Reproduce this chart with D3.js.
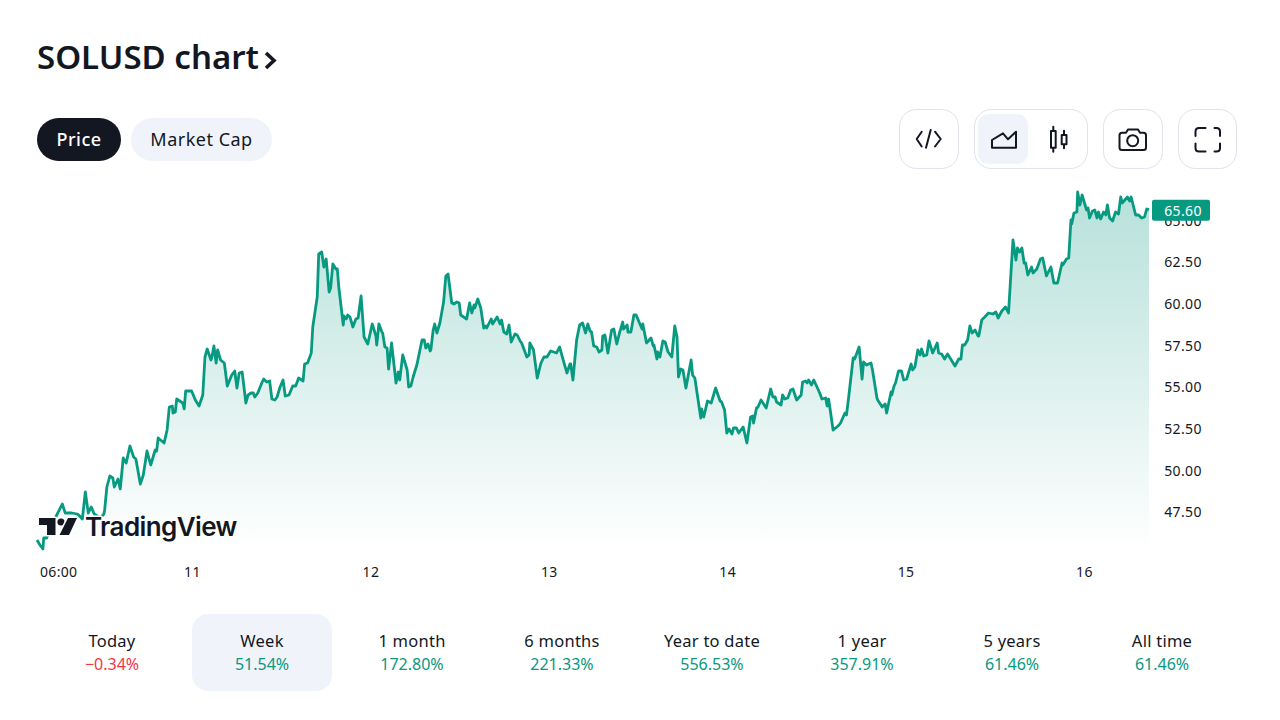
<!DOCTYPE html>
<html><head><meta charset="utf-8">
<script src="https://cdn.jsdelivr.net/npm/d3@7/dist/d3.min.js"></script>
<style>html,body{margin:0;padding:0;background:#fff;overflow:hidden}svg{display:block}text{font-family:"Noto Sans",sans-serif}</style>
</head><body><svg id="c" width="1280" height="720"></svg>
<script>
const hours=[0,.4,.8,.9,1.3,1.7,2.3,2.8,3.4,3.8,4.3,4.7,5.4,5.6,6.1,6.5,6.9,7.3,7.7,8.5,9,9.1,9.4,9.8,10.2,10.4,10.9,11.2,11.6,12,12.5,13,13.3,13.9,14.3,14.8,15.3,15.9,16.1,16.3,17.1,17.5,17.8,18.2,18.3,18.6,18.8,19.6,19.8,20,20.8,21.3,21.8,22.3,22.6,22.9,23.4,23.5,23.8,24.1,24.3,24.7,25.2,25.6,26.2,26.6,26.9,27.2,27.6,28.1,28.4,28.8,29.1,29.3,29.7,30.3,30.5,30.9,31.3,31.6,32,32.3,32.7,33.1,33.4,33.9,34.4,34.8,35.2,35.8,36,36.4,36.9,37.1,37.4,37.7,37.9,38.3,38.6,38.9,39.3,39.5,39.8,40.2,40.4,40.6,41.2,41.3,41.6,41.8,42.1,42.5,42.9,43.2,43.6,44,44.5,45.1,45.6,45.7,46,46.4,46.5,46.8,47.1,47.3,47.7,48.3,48.6,48.8,49.2,49.8,50,50.3,50.6,51.1,51.8,52.1,52.3,52.6,52.9,53,53.3,53.5,53.8,54.2,54.7,55,55.3,55.8,56.1,56.5,56.8,57,57.8,58.2,58.5,58.8,58.9,59.3,59.7,60.1,60.4,60.5,61.1,61.3,61.9,62.3,62.5,62.8,63.2,63.5,63.8,64.3,64.6,65,65.2,65.9,66.2,66.3,66.8,67.3,67.8,68.2,68.6,69.1,69.9,70.3,70.9,71.3,71.7,71.8,72.1,72.6,73,73.4,73.8,74.1,74.4,74.6,74.9,75.3,75.6,76,76.1,76.4,76.8,77.3,77.6,78,78.4,78.8,78.9,79.4,79.5,79.9,80.3,80.6,81.4,81.5,82,82.6,82.9,83,83.4,83.5,83.8,84.2,84.5,84.9,85.4,85.8,86.1,86.3,86.6,86.9,87.3,88,88.2,88.5,89.3,89.4,89.7,90.2,90.7,91.3,91.9,92.1,92.5,92.8,93.1,93.5,93.7,94.1,94.4,95,95.5,96,96.3,96.4,96.8,97,97.4,98.1,98.7,99,99.3,99.5,100.1,100.3,100.6,101,101.4,101.7,102.2,102.8,103,103.4,103.6,103.8,104.2,104.5,105.3,105.6,106.1,106.3,106.5,107.1,107.6,107.9,108.1,108.7,108.9,109.2,109.8,110,110.6,111,111.2,111.6,112.2,112.4,113,113.1,113.7,114.1,114.3,114.9,115,115.3,115.5,115.9,116.3,116.6,117,117.6,117.8,118.1,118.5,118.8,119,119.3,119.7,120,120.5,121.1,121.3,121.7,122.1,122.5,123.5,124,124.3,124.5,124.8,125.2,125.5,125.8,126.2,126.6,126.7,127.1,127.5,128,128.6,129,129.3,129.8,130.3,130.7,131.3,131.7,131.9,132.2,132.5,132.8,133,133.3,133.8,134,134.5,135,135.3,135.8,136.4,136.8,137.3,137.9,138,138.5,138.8,139.1,139.2,139.5,139.9,140,140.3,140.6,141.2,141.4,141.6,142,142.3,142.6,142.8,143.1,143.5,143.8,144,144.3,144.7,145.1,145.5,145.8,146,146.7,147,147.2,147.8,148.2,148.6,149,149.3,149.6];
const prices=[45.78,45.48,45.24,45.9,45.9,46.38,46.98,47.4,47.94,47.4,47.4,47.4,47.34,47.28,47.04,48.66,47.4,47.76,47.34,47.1,47.34,47.58,48.96,49.62,49.5,48.96,49.44,48.84,50.7,50.4,51.42,50.76,50.64,49.14,49.68,51.12,50.28,51.18,51.12,51.9,51.6,52.38,53.76,53.82,53.4,53.46,54.24,54,53.64,54.72,54.72,54.18,53.82,54.48,56.76,57.24,56.58,56.7,57.42,56.4,57.18,56.58,56.4,55.02,55.68,55.92,54.9,55.8,55.86,54,54.48,54.6,54.6,54.36,54.6,55.26,55.44,55.26,55.32,54.24,54.18,54.36,54.96,55.38,54.42,54.48,55.02,55.02,55.5,55.32,56.34,56.4,57,58.56,59.46,60.36,62.94,63.06,62.16,62.64,60.66,60.9,62.34,62.04,62.04,60.96,58.68,59.22,59.04,59.28,59.16,58.56,59.04,59.1,60.42,57.96,57.54,58.74,58.02,57.48,58.74,58.26,58.2,57.36,57.3,56.04,57.6,55.2,55.86,55.38,56.88,55.98,54.96,55.02,55.56,56.28,57.78,57.78,57.3,57.54,57.12,57.24,58.38,58.74,58.2,58.8,60.06,61.62,61.74,60,59.94,60.06,60,59.28,59.04,60,59.4,59.88,59.7,60.24,59.7,58.5,58.62,58.5,59.04,58.74,59.16,58.74,58.98,58.26,58.14,58.68,57.66,58.14,58.08,57.72,57.6,56.76,56.88,57.6,57.18,55.5,56.4,56.76,56.76,57.12,57,57.36,56.4,55.8,56.34,56.34,55.38,57.78,58.68,58.8,58.2,58.74,58.32,58.26,57.42,57.36,57.06,57.18,58.02,58.08,57,58.38,58.44,57.54,58.26,58.86,58.44,58.68,58.26,58.26,59.28,59.28,58.44,58.74,57.6,57.9,57.42,57.48,56.64,57.06,56.76,57.72,57.66,57.06,56.76,58.62,57.96,55.56,56.04,55.98,54.9,56.58,55.68,55.5,53.1,53.64,53.16,54.12,54,54.9,54.12,54.06,53.58,52.2,52.44,52.14,52.5,52.5,52.2,52.56,51.6,53.16,53.22,52.8,53.7,53.76,54.18,53.7,54.84,54.36,54.36,54.06,53.88,54.48,54.24,54.3,54.78,54.84,54.18,54.48,55.26,55.32,55.2,55.38,55.08,55.38,54.6,54.24,54.3,53.82,54.24,52.38,52.56,52.68,52.8,53.4,53.28,54.36,56.7,56.64,57.36,55.44,56.46,56.28,56.4,55.98,54.3,54.18,53.76,53.94,53.4,54.66,54.48,55.02,55.2,55.92,55.92,55.38,55.44,56.34,55.98,56.16,57.18,56.88,57.24,56.82,56.88,57.72,57,57.6,57,56.94,56.64,56.94,56.22,56.64,56.64,57.48,57.48,57.78,58.62,58.2,58.38,58.02,58.02,58.98,59.16,59.4,59.34,59.46,59.1,59.52,59.76,59.4,63.78,62.58,63.3,63.06,63.3,62.4,62.4,61.68,62.16,61.8,62.04,62.64,62.7,61.62,62.16,61.2,61.2,62.4,62.28,62.64,62.7,64.98,64.74,65.4,65.46,66.66,65.88,66.48,65.58,65.7,65.1,65.52,65.58,65.1,65.46,65.04,65.46,65.28,65.88,65.1,64.92,65.46,65.34,66.36,66,66.36,66.12,66.36,65.28,65.28,65.1,65.16,65.64,65.6];
const yTicks=[47.5,50,52.5,55,57.5,60,62.5,65];
const xTickHours=[2.85,20.85,44.85,68.85,92.85,116.85,140.85];
const xTickLabels=["06:00","11","12","13","14","15","16"];
const lastPrice=65.60;
const tabs=["Price","Market Cap"];
const periods=["Today","Week","1 month","6 months","Year to date","1 year","5 years","All time"];
const changes=["−0.34%","51.54%","172.80%","221.33%","556.53%","357.91%","61.46%","61.46%"];

const INK="#131722",UP="#089981",DOWN="#f23645",PALE="#f0f3fa",EDGE="#e0e3eb";
const svg=d3.select("#c");
const x=d3.scaleLinear().domain([0,149.6]).range([37,1149]);
const y=d3.scaleLinear().domain([45,67]).range([553,186.33]);
const series=hours.map((h,i)=>({h,p:prices[i]}));

const defs=svg.append("defs");
const grad=defs.append("linearGradient").attr("id","fill").attr("gradientUnits","userSpaceOnUse")
  .attr("x1",0).attr("x2",0).attr("y1",186).attr("y2",551);
grad.append("stop").attr("offset",0).attr("stop-color",UP).attr("stop-opacity",.3);
grad.append("stop").attr("offset",1).attr("stop-color",UP).attr("stop-opacity",0);

// header
svg.append("text").attr("x",37).attr("y",69).attr("font-size",33).attr("font-weight",600).attr("fill",INK).text("SOLUSD chart");
svg.append("path").attr("d","M266 53L274 60.500L266 68").attr("fill","none").attr("stroke",INK).attr("stroke-width",3.6);

// pills
const pillX=[37,131],pillW=[84,141];
tabs.forEach((t,i)=>{
  svg.append("rect").attr("x",pillX[i]).attr("y",118).attr("width",pillW[i]).attr("height",43).attr("rx",21.5).attr("fill",i?PALE:INK);
  svg.append("text").attr("x",pillX[i]+pillW[i]/2).attr("y",145.5).attr("text-anchor","middle").attr("font-size",18).attr("letter-spacing",.5).attr("font-weight",i?400:500).attr("fill",i?INK:"#fff").text(t);
});

// toolbar
[[899,60],[974,114],[1103,60],[1178,59]].forEach(([bx,w])=>{
  svg.append("rect").attr("x",bx+.5).attr("y",109.5).attr("width",w-1).attr("height",59).attr("rx",17).attr("fill","#fff").attr("stroke",EDGE);
});
svg.append("rect").attr("x",978).attr("y",114).attr("width",50).attr("height",50).attr("rx",11).attr("fill",PALE);
const icon=d=>svg.append("path").attr("d",d).attr("fill","none").attr("stroke",INK).attr("stroke-width",2).attr("stroke-linecap","round").attr("stroke-linejoin","round");
icon("M921.700 131.700L916.700 139L921.700 146.500M935 131.700L940.700 139L935 146.500M930.700 130L926 147.700");
icon("M992 147.700V140L1003 133.300L1008 139.300L1016 131.700V147.700Z");
icon("M1053.300 126.700V131M1053.300 147.700V151.700M1051 131H1055.700V147.700H1051ZM1064 130.700V135M1064 144.300V148.300M1061.700 135H1066.500V144.300H1061.700Z");
icon("M1122 132.700H1126L1128 129.500H1138L1140 132.700H1143.500A2.500 2.500 0 0 1 1146 135.200V147.500A2.500 2.500 0 0 1 1143.500 150H1122A2.500 2.500 0 0 1 1119.500 147.500V135.200A2.500 2.500 0 0 1 1122 132.700Z");
svg.append("circle").attr("cx",1132.7).attr("cy",140.7).attr("r",5.5).attr("fill","none").attr("stroke",INK).attr("stroke-width",2);
icon("M1195.500 136V131.500Q1195.500 128 1199 128H1205.500M1214.500 128H1216.500Q1220 128 1220 131.500V136M1195.500 143.500V148Q1195.500 151.500 1199 151.500H1205.500M1214.500 151.500H1216.500Q1220 151.500 1220 148V143.500");

// area and line
svg.append("path").datum(series).attr("fill","url(#fill)")
  .attr("d",d3.area().x(d=>x(d.h)).y0(551).y1(d=>y(d.p)));
svg.append("path").datum(series).attr("fill","none").attr("stroke",UP).attr("stroke-width",2.8).attr("stroke-linejoin","round")
  .attr("d",d3.line().x(d=>x(d.h)).y(d=>y(d.p)));

// axes
const yAxis=svg.append("g").attr("transform","translate(1183,1)")
  .call(d3.axisRight(y).tickValues(yTicks).tickSize(0).tickPadding(0).tickFormat(d3.format(".2f")));
yAxis.select(".domain").remove();
yAxis.selectAll("text").attr("text-anchor","middle").attr("font-size",14).attr("letter-spacing",.35).attr("fill",INK).attr("font-family",'"Noto Sans",sans-serif');
const xAxis=svg.append("g").attr("transform","translate(0,561)")
  .call(d3.axisBottom(x).tickValues(xTickHours).tickSize(0).tickPadding(6).tickFormat((d,i)=>xTickLabels[i]));
xAxis.select(".domain").remove();
xAxis.selectAll("text").attr("font-size",14).attr("letter-spacing",.35).attr("fill",INK).attr("font-family",'"Noto Sans",sans-serif');

// last price tag
svg.append("rect").attr("x",1152).attr("y",y(lastPrice)-10).attr("width",58).attr("height",21).attr("rx",2).attr("fill",UP);
svg.append("text").attr("x",1183).attr("y",y(lastPrice)+6).attr("text-anchor","middle").attr("font-size",14).attr("letter-spacing",.35).attr("fill","#fff").text(d3.format(".2f")(lastPrice));

// watermark with white halo
const wm=svg.append("g");
const halo=s=>s.attr("stroke","#fff").attr("stroke-width",3).attr("paint-order","stroke").attr("stroke-linejoin","round");
halo(wm.append("path").attr("fill",INK).attr("d","M39 518H55.500V535H47V525H39Z"));
halo(wm.append("circle").attr("cx",61).attr("cy",522).attr("r",3.6).attr("fill",INK));
halo(wm.append("path").attr("fill",INK).attr("d","M68 518H77L69 535H59.500Z"));
halo(wm.append("text").attr("x",85).attr("y",536).attr("font-size",26).attr("font-weight",600).attr("fill",INK).attr("style",'font-family:Inter,sans-serif').attr("letter-spacing",-.6).text("TradingView"));

// periods
const pCenter=d3.scalePoint().domain(periods).range([112,1162]);
svg.append("rect").attr("x",192).attr("y",614).attr("width",140).attr("height",77).attr("rx",16).attr("fill",PALE);
periods.forEach((p,i)=>{
  svg.append("text").attr("x",pCenter(p)).attr("y",647).attr("text-anchor","middle").attr("font-size",16.5).attr("letter-spacing",.25).attr("fill",INK).text(p);
  svg.append("text").attr("x",pCenter(p)).attr("y",670).attr("text-anchor","middle").attr("font-size",16).attr("fill",changes[i].startsWith("−")?DOWN:UP).text(changes[i]);
});
</script></body></html>
